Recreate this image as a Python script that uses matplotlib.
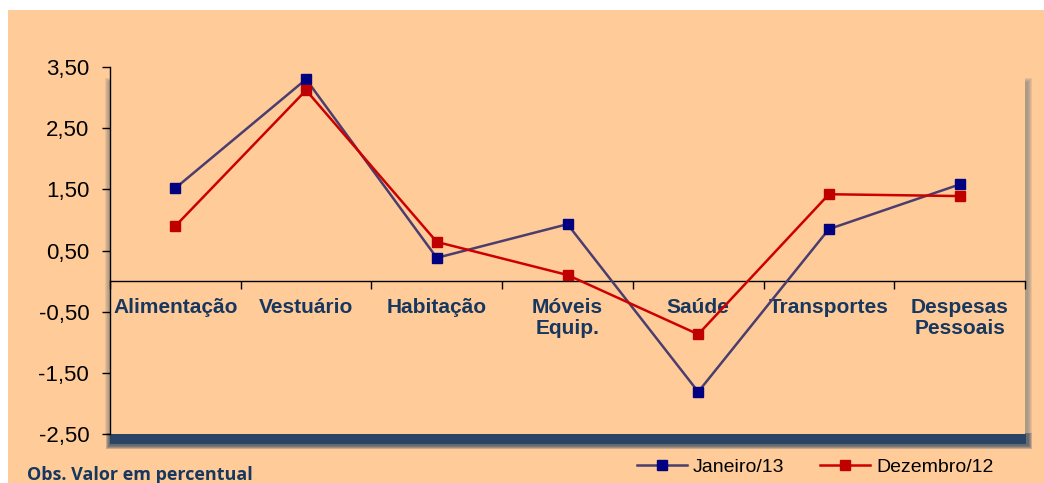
import matplotlib
matplotlib.use('Agg')
import matplotlib.pyplot as plt
from matplotlib.patches import Rectangle
from matplotlib.ticker import FuncFormatter, FixedLocator
from matplotlib.lines import Line2D

categorias = ['Alimentação', 'Vestuário', 'Habitação', 'Móveis\nEquip.', 'Saúde',
              'Transportes', 'Despesas\nPessoais']
janeiro13 = [1.52, 3.30, 0.38, 0.93, -1.81, 0.85, 1.58]
dezembro12 = [0.90, 3.12, 0.64, 0.10, -0.87, 1.42, 1.39]
yticks = [-2.5, -1.5, -0.5, 0.5, 1.5, 2.5, 3.5]

W, H = 1044, 483
laranja = '#FFCC99'
azul_txt = '#17375E'

plt.rcParams['font.family'] = ['Liberation Sans', 'DejaVu Sans']

fig = plt.figure(figsize=(W / 100, H / 100), dpi=100)
fig.patch.set_facecolor('white')


def rect_px(x0, y0, x1, y1, **kw):
    # coordenadas em pixels a partir do canto superior esquerdo
    r = Rectangle((x0 / W, 1 - y1 / H), (x1 - x0) / W, (y1 - y0) / H,
                  transform=fig.transFigure, linewidth=0, **kw)
    fig.patches.append(r)


rect_px(8, 10, W, H, facecolor=laranja, zorder=0)

# sombras da area do grafico
for i in range(4):
    rect_px(106 + i, 433, 1032 - i, 449 - i, facecolor='#243F60', alpha=0.25, zorder=1)
rect_px(110, 433, 1026, 444, facecolor='#2A4466', zorder=1)
for i in range(5):
    rect_px(1024, 78 + i, 1032 - i, 434, facecolor='#7F7F7F', alpha=0.18, zorder=1)
for i in range(4):
    rect_px(105 + i, 78 + i, 110, 434, facecolor='#7F7F7F', alpha=0.18, zorder=1)

left, right, top, bottom = 110, 1025, 67, 434
ax = fig.add_axes([left / W, 1 - bottom / H, (right - left) / W, (bottom - top) / H])
ax.set_facecolor(laranja)
ax.set_zorder(2)

x = list(range(len(categorias)))
ax.plot(x, janeiro13, color='#4B3D6E', lw=1.8, marker='s', ms=7.5,
        mfc='#000080', mec='#000080', zorder=3)
ax.plot(x, dezembro12, color='#CC0000', lw=1.8, marker='s', ms=7.5,
        mfc='#C00000', mec='#C00000', zorder=3)

ax.set_xlim(-0.5, len(categorias) - 0.5)
ax.set_ylim(-2.5, 3.5)

for s in ['top', 'right']:
    ax.spines[s].set_visible(False)
ax.spines['left'].set_linewidth(1.0)
ax.spines['bottom'].set_position(('data', 0))
ax.spines['bottom'].set_linewidth(1.0)

ax.set_yticks(yticks)
ax.yaxis.set_major_formatter(FuncFormatter(lambda v, p: f'{v:.2f}'.replace('.', ',')))
ax.tick_params(axis='y', labelsize=16, length=6, width=1, pad=9, colors='black')

ax.set_xticks(x)
ax.set_xticklabels(categorias, fontsize=15, fontweight='bold', color=azul_txt,
                   linespacing=1.12)
ax.xaxis.set_minor_locator(FixedLocator([i - 0.5 for i in range(len(categorias) + 1)]))
ax.tick_params(axis='x', which='major', length=0, pad=12)
ax.tick_params(axis='x', which='minor', length=6, width=1, direction='out')

fig.text(27 / W, 1 - 475 / H, 'Obs. Valor em percentual', fontsize=13,
         fontweight='bold', color=azul_txt, family=['Open Sans', 'DejaVu Sans'],
         va='center', ha='left')

handles = [Line2D([], [], color='#4B3D6E', lw=1.8, marker='s', ms=7.5,
                  mfc='#000080', mec='#000080'),
           Line2D([], [], color='#CC0000', lw=1.8, marker='s', ms=7.5,
                  mfc='#C00000', mec='#C00000')]
fig.legend(handles, ['Janeiro/13', 'Dezembro/12'], loc='center',
           bbox_to_anchor=(815 / W, 1 - 467 / H), ncol=2, frameon=False,
           fontsize=14, handlelength=2.6, columnspacing=1.8, handletextpad=0.3)

fig.savefig('out.png', dpi=100, facecolor=fig.get_facecolor())
